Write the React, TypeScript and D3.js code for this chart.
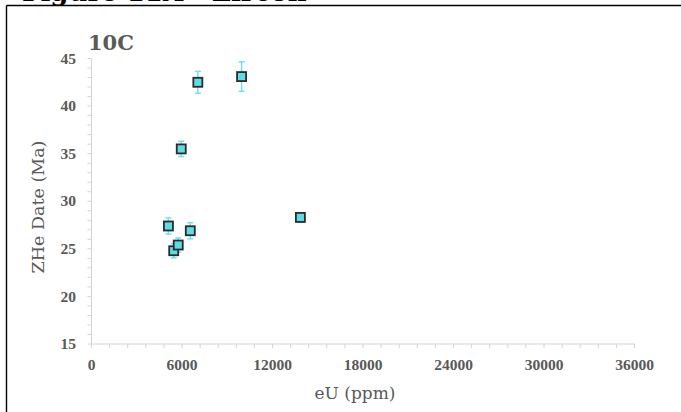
import React from "react";
import * as d3 from "d3";

// eU concentration (ppm), ZHe date (Ma) and 1σ uncertainty (Ma)
const eU = [5100, 5450, 5750, 5950, 6550, 7050, 9950, 13850];
const zheDate = [27.4, 24.8, 25.4, 35.5, 26.9, 42.5, 43.1, 28.3];
const dateErr = [0.85, 0.75, 0.75, 0.8, 0.85, 1.15, 1.55, 0.5];

const xTicks = [0, 6000, 12000, 18000, 24000, 30000, 36000];
const yTicks = [15, 20, 25, 30, 35, 40, 45];

const W = 681;
const H = 412;

export default function App() {
  const x = d3.scaleLinear().domain([0, 36000]).range([91.5, 634.5]);
  const y = d3.scaleLinear().domain([15, 45]).range([344, 58.5]);

  const xMinor = d3.range(0, 36000 + 1, 1200);
  const yMinor = d3.range(15, 45 + 0.01, 1);

  const axisColor = "#d4d4d4";
  const textColor = "#595959";
  const serif = "'DejaVu Serif', 'Liberation Serif', serif";
  const tickFont = "'Liberation Serif', 'DejaVu Serif', serif";
  const half = 4.5;

  const points = eU.map((u, i) => ({ u, d: zheDate[i], e: dateErr[i] }));

  return (
    <svg
      width={W}
      height={H}
      style={{ position: "absolute", left: 0, top: 0, background: "#fff" }}
    >
      {/* figure heading, partly above the page edge */}
      <text x={22} y={0.5} fontFamily={serif} fontWeight="bold" fontSize={26} fill="#000">
        Figure 11A - Zircon
      </text>

      {/* frame */}
      <line x1={6.5} x2={W} y1={5.5} y2={5.5} stroke="#000" strokeWidth={1.4} />
      <line x1={6.5} x2={6.5} y1={5.5} y2={H} stroke="#000" strokeWidth={1.4} />

      {/* panel label */}
      <text x={88} y={50} fontFamily={serif} fontWeight="bold" fontSize={21} fill={textColor}>
        10C
      </text>

      {/* y axis */}
      <line x1={x(0)} x2={x(0)} y1={y(45)} y2={y(15)} stroke={axisColor} strokeWidth={1} />
      {yMinor.map((v) => (
        <line key={"ym" + v} x1={x(0) - 4} x2={x(0)} y1={y(v)} y2={y(v)} stroke={axisColor} strokeWidth={1} />
      ))}
      {yTicks.map((v) => (
        <text
          key={"yt" + v}
          x={76}
          y={y(v)}
          dy="0.33em"
          textAnchor="end"
          fontFamily={tickFont}
          fontWeight="bold"
          fontSize={15.5}
          fill={textColor}
        >
          {v}
        </text>
      ))}

      {/* x axis */}
      <line x1={x(0)} x2={x(36000)} y1={y(15)} y2={y(15)} stroke={axisColor} strokeWidth={1} />
      {xMinor.map((v) => (
        <line key={"xm" + v} x1={x(v)} x2={x(v)} y1={y(15)} y2={y(15) + 4} stroke={axisColor} strokeWidth={1} />
      ))}
      {xTicks.map((v) => (
        <text
          key={"xt" + v}
          x={x(v)}
          y={370}
          textAnchor="middle"
          fontFamily={tickFont}
          fontWeight="bold"
          fontSize={15.5}
          fill={textColor}
        >
          {v}
        </text>
      ))}

      {/* axis titles */}
      <text x={355} y={399} textAnchor="middle" fontFamily={serif} fontSize={17} fill={textColor}>
        eU (ppm)
      </text>
      <text
        transform={`translate(44,207) rotate(-90)`}
        textAnchor="middle"
        fontFamily={serif}
        fontSize={17.5}
        fill={textColor}
      >
        ZHe Date (Ma)
      </text>

      {/* error bars */}
      {points.map((p, i) => (
        <g key={"eb" + i} stroke="#72e1ee" strokeWidth={1.5}>
          <line x1={x(p.u)} x2={x(p.u)} y1={y(p.d - p.e)} y2={y(p.d + p.e)} />
          <line x1={x(p.u) - 3} x2={x(p.u) + 3} y1={y(p.d - p.e)} y2={y(p.d - p.e)} />
          <line x1={x(p.u) - 3} x2={x(p.u) + 3} y1={y(p.d + p.e)} y2={y(p.d + p.e)} />
        </g>
      ))}

      {/* sample markers */}
      {points.map((p, i) => (
        <rect
          key={"pt" + i}
          x={x(p.u) - half}
          y={y(p.d) - half}
          width={half * 2}
          height={half * 2}
          fill="#5fdbe6"
          stroke="#2b2b2b"
          strokeWidth={1.8}
        />
      ))}
    </svg>
  );
}
